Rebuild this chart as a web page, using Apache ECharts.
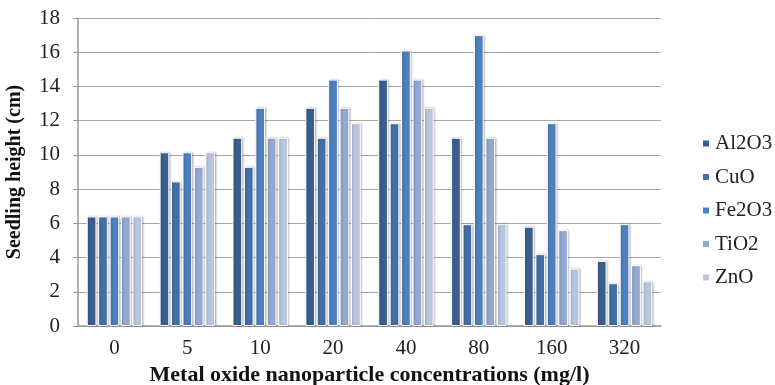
<!DOCTYPE html>
<html>
<head>
<meta charset="utf-8">
<script src="https://cdn.jsdelivr.net/npm/echarts@6/dist/echarts.min.js"></script>
<style>
  html, body { margin: 0; padding: 0; background: #fff; }
  #chart { width: 775px; height: 385px; }
</style>
</head>
<body>
<div id="chart"></div>
<script>
const categories = ['0', '5', '10', '20', '40', '80', '160', '320'];
const seriesNames = ['Al2O3', 'CuO', 'Fe2O3', 'TiO2', 'ZnO'];
const al2o3 = [6.4, 10.15, 11.0, 12.75, 14.4, 11.0, 5.8, 3.8];
const cuo = [6.4, 8.45, 9.3, 11.0, 11.85, 5.95, 4.2, 2.5];
const fe2o3 = [6.4, 10.15, 12.75, 14.4, 16.1, 17.0, 11.85, 5.95];
const tio2 = [6.4, 9.3, 11.0, 12.75, 14.4, 11.0, 5.6, 3.55];
const zno = [6.4, 10.15, 11.0, 11.85, 12.75, 5.95, 3.35, 2.6];
const seriesValues = [al2o3, cuo, fe2o3, tio2, zno];
const colors = ['#3a5f8e', '#4270a6', '#4d80bd', '#93a9d1', '#b9c6e0'];

const serif = '"Liberation Serif", "DejaVu Serif", serif';

const chart = echarts.init(document.getElementById('chart'));

const series = seriesNames.map((name, i) => ({
  name: name,
  type: 'bar',
  data: seriesValues[i],
  barGap: '18%',
  barCategoryGap: '24%',
  itemStyle: {
    color: colors[i],
    borderColor: '#fff',
    borderWidth: 1,
    shadowColor: 'rgba(0,0,0,0.25)',
    shadowBlur: 2,
    shadowOffsetX: 1,
    shadowOffsetY: 0,
  },
}));

chart.setOption({
  animation: false,
  color: colors,
  grid: { left: 78, right: 114, top: 18, bottom: 59, containLabel: false, outerBoundsMode: 'none' },
  legend: {
    orient: 'vertical',
    left: 696,
    top: 128,
    itemWidth: 8,
    itemHeight: 8,
    itemGap: 12.5,
    icon: 'rect',
    textStyle: { fontFamily: serif, fontSize: 21, lineHeight: 20, color: '#222' },
    data: seriesNames,
  },
  xAxis: {
    type: 'category',
    data: categories,
    name: 'Metal oxide nanoparticle concentrations (mg/l)',
    nameLocation: 'middle',
    nameGap: 34,
    nameTextStyle: { fontFamily: serif, fontSize: 22, fontWeight: 'bold', color: '#111' },
    axisLine: { lineStyle: { color: '#999', width: 1.5 } },
    axisTick: { show: false },
    axisLabel: { fontFamily: serif, fontSize: 21, color: '#222', margin: 12 },
  },
  yAxis: {
    type: 'value',
    min: 0,
    max: 18,
    interval: 2,
    name: 'Seedling height (cm)',
    nameLocation: 'middle',
    nameGap: 53,
    nameTextStyle: { fontFamily: serif, fontSize: 20, fontWeight: 'bold', color: '#111' },
    axisLine: { show: true, lineStyle: { color: '#999', width: 1.5 } },
    axisTick: { show: true, length: 5, lineStyle: { color: '#999' } },
    axisLabel: { fontFamily: serif, fontSize: 21, color: '#222', margin: 18 },
    splitLine: { lineStyle: { color: '#a6a6a6', width: 1 } },
  },
  series: series,
});
</script>
</body>
</html>
